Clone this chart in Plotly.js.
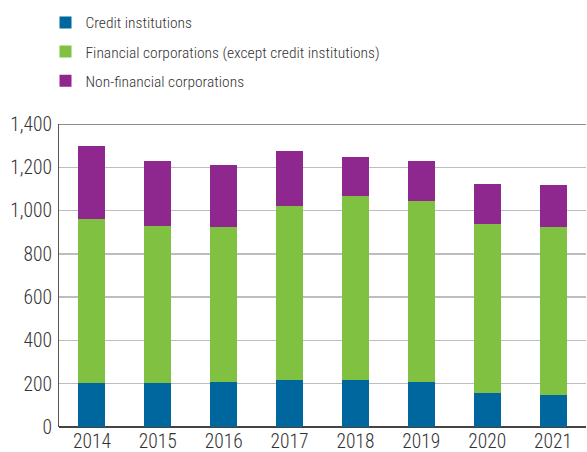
<!DOCTYPE html>
<html><head><meta charset="utf-8">
<script src="https://cdn.plot.ly/plotly-3.0.1.min.js"></script>
<style>html,body{margin:0;padding:0;background:#fff}#chart{width:587px;height:452px}</style>
</head><body><div id="chart"></div>
<script>
const years = ['2014','2015','2016','2017','2018','2019','2020','2021'];
const seriesNames = ['Credit institutions','Financial corporations (except credit institutions)','Non-financial corporations'];
const creditInstitutions = [203, 203, 208, 217, 217, 208, 157, 148];
const financialCorporations = [759, 727, 717, 805, 851, 837, 782, 777];
const nonFinancialCorporations = [338, 300, 287, 255, 181, 185, 185, 194];
const yTickVals = [0, 200, 400, 600, 800, 1000, 1200, 1400];
const yTickText = ['0','200','400','600','800','1,000','1,200','1,400'];

const colors = ['#00669e', '#80c142', '#8e288e'];
const font = 'Roboto Condensed, DejaVu Sans Condensed, sans-serif';
const allSeries = [creditInstitutions, financialCorporations, nonFinancialCorporations];
const traces = allSeries.map((vals, i) => ({
  type: 'bar', x: years, y: vals, name: seriesNames[i], legendgroup: 'g' + i,
  marker: {color: colors[i], line: {width: 0}}, hoverinfo: 'x+y+name'
}));
const layout = {
  width: 587, height: 452,
  margin: {l: 58.5, r: 0.5, t: 124, b: 25, pad: 0},
  barmode: 'stack', bargap: 0.59,
  paper_bgcolor: '#fff', plot_bgcolor: '#fff',
  font: {family: font, size: 19, color: '#333', weight: 300},
  showlegend: true,
  legend: {
    orientation: 'v', traceorder: 'grouped',
    xref: 'paper', yref: 'paper', x: -0.0256, y: 1.39, xanchor: 'left', yanchor: 'top',
    font: {family: font, size: 15.5, color: '#333', weight: 300},
    itemsizing: 'constant', tracegroupgap: 6, itemwidth: 30,
    bgcolor: 'rgba(0,0,0,0)'
  },
  xaxis: {
    type: 'category', showgrid: false, zeroline: false,
    showline: false, ticks: '', tickangle: 0, tickfont: {family: font, size: 19.5, color: '#333', weight: 300},
    fixedrange: true
  },
  yaxis: {
    range: [0, 1400], tickvals: yTickVals, ticktext: yTickText,
    showgrid: true, gridcolor: '#bdbdbd', gridwidth: 1.5,
    zeroline: true, zerolinecolor: '#444', zerolinewidth: 1.5,
    showline: true, linecolor: '#555', linewidth: 1.2, mirror: false,
    ticks: '', ticklabelstandoff: 2,
    tickfont: {family: font, size: 19.5, color: '#333', weight: 300}, fixedrange: true
  },
  shapes: [{
    type: 'line', xref: 'paper', yref: 'y', x0: 0, x1: 1, y0: 1400, y1: 1400,
    line: {color: '#666', width: 1.5}, layer: 'above'
  }]
};
Plotly.newPlot('chart', traces, layout, {displayModeBar: false, staticPlot: true});
</script></body></html>
